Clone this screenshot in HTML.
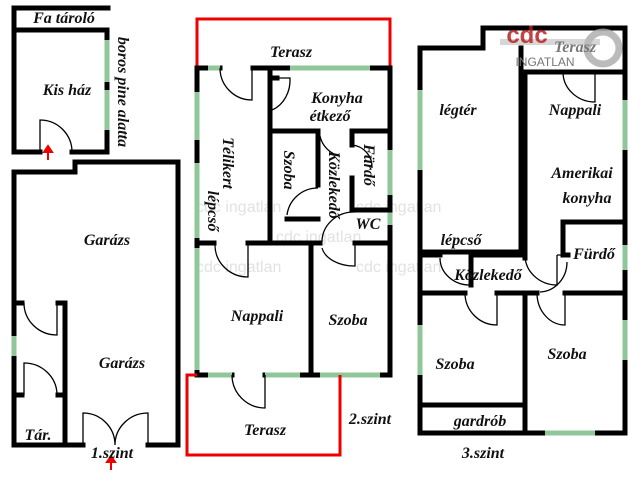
<!DOCTYPE html>
<html><head><meta charset="utf-8"><style>
body{margin:0;background:#fff}
svg{display:block}
text{font-family:"Liberation Serif",serif;font-weight:bold;font-style:italic;font-size:16px;fill:#111;text-anchor:middle}
.w{stroke:#000;stroke-width:5;fill:none;stroke-linecap:square}
.g{stroke:#8fc79a;stroke-width:5;fill:none}
.r{stroke:#e00;stroke-width:3;fill:none}
.d{stroke:#000;stroke-width:1.3;fill:none}
.wm{font-family:"Liberation Sans",sans-serif;font-style:normal;font-weight:normal;font-size:16px;fill:#e2e2e2;text-anchor:start}
</style></head><body>
<svg width="640" height="480" viewBox="0 0 640 480">
<text class="wm" x="196" y="212">cdc ingatlan</text>
<text class="wm" x="276" y="242">cdc ingatlan</text>
<text class="wm" x="196" y="272">cdc ingatlan</text>
<text class="wm" x="356" y="212">cdc ingatlan</text>
<text class="wm" x="356" y="272">cdc ingatlan</text>

<!-- PANEL 1 -->
<path class="w" d="M108,8 H14 V152 H40 M72,152 H107 V30 H14"/>
<path class="g" d="M107,40 V82 M107,90 V130"/>
<path class="d" d="M40,152 V120 A32,32 0 0 1 72,152"/>
<path d="M48,160 V150 M44,152 L48,146 L52,152 Z" stroke="#e00" stroke-width="2" fill="#e00"/>
<text x="64" y="23">Fa tároló</text>
<text x="67" y="95">Kis ház</text>
<text transform="translate(118,92) rotate(90)">boros pine alatta</text>

<path class="w" d="M83,445 H14 V172 H75 V162 H178 V445 H148"/>
<path class="g" d="M14,336 V356"/>
<path class="w" d="M14,303 H22 M58,303 H65 V445 M14,395 H22 M58,395 H65"/>
<path class="d" d="M24,303 A33,32 0 0 0 57,335 V303 M24,395 V363 A33,32 0 0 1 57,395"/>
<path class="d" d="M83,445 V413 A32,32 0 0 1 115,445 A33,32 0 0 1 148,413 V445"/>
<path d="M111,470 V460 M107,462 L111,456 L115,462 Z" stroke="#e00" stroke-width="2" fill="#e00"/>
<text x="107" y="245">Garázs</text>
<text x="122" y="368">Garázs</text>
<text x="38" y="440">Tár.</text>
<text x="112" y="458">1.szint</text>

<!-- PANEL 2 -->
<path class="r" d="M197,68 V19 H390 V68"/>
<path class="w" d="M220,68 H197 V375 H232 M265,375 H390 V68 H253"/>
<path class="g" d="M208,68 H220 M290,68 H370 M197,92 V140 M197,163 V238 M197,248 V370 M390,150 V195 M390,210 V225 M208,375 H232 M265,375 H300 M320,375 H380"/>
<path class="d" d="M220,68 A32,32 0 0 0 252,100 V68"/>
<path class="w" d="M270,70 V242 M270,78 H277 M270,131 H318 V185 M352,145 V131 H390 M352,178 V210 H390 M318,219 H287"/>
<path class="d" d="M274,78 H290 A28,32 0 0 1 272,110"/>
<path class="d" d="M318,188 A31,31 0 0 0 287,215"/>
<path class="d" d="M320,136 A26,26 0 0 0 340,156"/>
<path class="d" d="M352,145 A22,22 0 0 1 372,168"/>
<path class="d" d="M355,212 A32,30 0 0 0 322,242"/>
<path class="w" d="M197,243 H214 M248,243 H320 M355,243 H390 M311,243 V375"/>
<path class="d" d="M215,245 A33,32 0 0 0 248,277 V245"/>
<path class="d" d="M322,248 A33,22 0 0 0 355,266 V245"/>
<path class="d" d="M232,375 A33,33 0 0 0 265,408 V375"/>
<path class="r" d="M197,375 H187 V455 H340 V375"/>
<text x="291" y="57">Terasz</text>
<text x="337" y="103">Konyha</text>
<text x="330" y="121">étkező</text>
<text transform="translate(284,170) rotate(90)">Szoba</text>
<text transform="translate(329,185) rotate(90)">Közlekedő</text>
<text transform="translate(364,165) rotate(90)">Fürdő</text>
<text x="368" y="229">WC</text>
<text transform="translate(223,163) rotate(90)">Télikert</text>
<text transform="translate(208,211) rotate(90)">lépcső</text>
<text x="257" y="321">Nappali</text>
<text x="348" y="325">Szoba</text>
<text x="265" y="435">Terasz</text>
<text x="370" y="424">2.szint</text>

<!-- PANEL 3 -->
<path class="w" d="M483,48 H420 V433 H625 V28 H483 V48"/>
<path class="g" d="M420,90 V170 M420,325 V375 M625,100 V150 M625,245 V270 M625,320 V360 M545,433 H595 M525,72 H550"/>
<path class="w" d="M521,48 V252 H420 M525,72 V252 M525,72 H625"/>
<path class="w" d="M563,255 V222 H625 M563,255 H568"/>
<path class="w" d="M420,255 H440 M471,255 V285 M471,255 H521 M525,252 V258"/>
<path class="d" d="M440,258 A30,27 0 0 0 470,285"/>
<path class="d" d="M525,255 A32,30 0 0 0 557,285 V255 M557,255 H563"/>
<path class="d" d="M567,262 A28,30 0 0 1 540,292"/>
<path class="w" d="M420,293 H465 M497,293 H537 M565,293 H625 M525,293 V433 M420,405 H525"/>
<path class="d" d="M465,293 A32,32 0 0 0 497,325 V293"/>
<path class="d" d="M537,293 A28,32 0 0 0 565,325 V293"/>
<path class="d" d="M563,72 A32,30 0 0 0 595,102 V72"/>
<circle cx="603" cy="48" r="16" fill="none" stroke="#aaa" stroke-width="7" opacity="0.8"/>
<path d="M500,42 H600" stroke="#bbb" stroke-width="6" opacity="0.6"/>
<text x="527" y="43" style="font-family:'Liberation Sans',sans-serif;font-size:24px;fill:#b22;font-style:normal;opacity:0.85">cdc</text>
<text x="575" y="52" style="fill:#777">Terasz</text>
<text x="545" y="66" style="font-family:'Liberation Sans',sans-serif;font-size:12px;font-style:normal;font-weight:normal;fill:#777">INGATLAN</text>
<text x="458" y="115">légtér</text>
<text x="575" y="115">Nappali</text>
<text x="582" y="178">Amerikai</text>
<text x="587" y="203">konyha</text>
<text x="461" y="245">lépcső</text>
<text x="594" y="259">Fürdő</text>
<text x="488" y="280">Közlekedő</text>
<text x="455" y="369">Szoba</text>
<text x="567" y="359">Szoba</text>
<text x="480" y="426">gardrób</text>
<text x="483" y="458">3.szint</text>
</svg>
</body></html>
